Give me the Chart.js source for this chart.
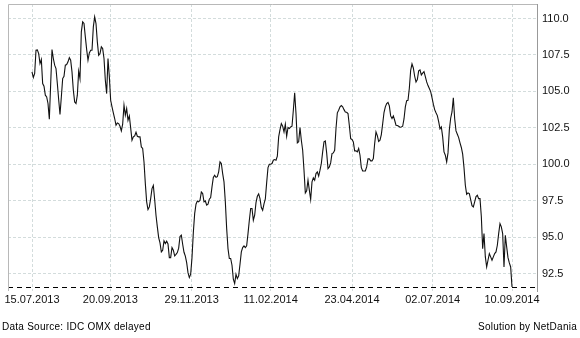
<!DOCTYPE html>
<html>
<head>
<meta charset="utf-8">
<script src="https://cdn.jsdelivr.net/npm/chart.js@4/dist/chart.umd.min.js"></script>
<style>
  html, body { margin: 0; padding: 0; background: #fff; }
  #wrap { position: relative; width: 580px; height: 338px; }
  .foot { position: absolute; top: 321px; font: 10px "Liberation Sans", Arial, sans-serif; letter-spacing: 0.25px; color: #000; }
</style>
</head>
<body>
<div id="wrap">
  <canvas id="chart" width="580" height="338"></canvas>
  <div class="foot" style="left:2px">Data Source: IDC OMX delayed</div>
  <div class="foot" style="right:3px">Solution by NetDania</div>
</div>
<script>
// closing prices, one per step, 15.07.2013 -> 10.09.2014
var closes = [
  106.34,105.95,106.23,107.83,107.85,107.60,106.91,107.19,105.54,105.36,
  104.74,104.62,104.17,103.09,105.49,107.87,107.26,106.80,106.57,105.54,
  104.44,103.41,104.62,105.88,106.04,106.80,106.84,107.03,107.32,107.14,
  106.34,105.08,104.28,104.17,104.74,106.39,105.88,109.09,109.77,109.66,
  108.74,107.87,107.14,107.64,107.83,107.83,109.43,110.12,109.66,108.40,
  107.48,107.60,108.06,107.94,107.26,105.77,104.85,107.26,106.00,104.39,
  103.94,103.53,103.14,102.68,102.84,102.79,102.61,102.29,102.75,104.05,
  103.37,103.82,103.02,103.32,102.50,101.65,101.88,101.95,102.20,101.92,
  101.88,101.88,101.19,101.08,100.16,98.67,97.42,96.89,97.07,97.64,
  98.33,
  98.54,97.58,96.50,95.70,94.97,94.60,93.98,94.10,94.74,94.56,
  94.72,94.53,93.59,93.59,94.28,94.10,93.71,93.82,93.94,94.24,
  95.04,95.13,94.51,93.96,93.69,93.25,92.56,92.22,92.45,93.59,
  95.31,96.61,97.26,97.48,97.42,97.53,98.10,97.99,97.42,97.48,
  97.19,97.26,97.60,97.71,98.45,99.09,99.25,99.11,99.15,99.48,
  100.16,100.05,99.36,98.79,97.42,95.59,94.21,93.53,93.53,93.07,
  92.11,91.81,92.45,92.15,92.34,93.14,93.98,94.28,94.40,94.28,
  94.40,95.24,96.16,96.96,96.96,96.16,96.50,97.37,97.80,97.96,
  97.64,97.03,96.84,97.28,97.62,98.74,99.77,100.00,100.00,100.05,
  100.28,
  100.32,100.28,100.55,101.88,102.38,102.79,102.61,102.22,102.75,101.92,
  102.52,102.45,102.56,102.61,103.71,104.90,103.48,101.47,101.54,102.52,
  101.65,100.96,99.59,98.03,98.17,98.90,98.22,97.58,98.79,99.06,
  98.90,99.36,99.48,99.18,99.59,100.05,100.85,101.54,101.60,100.78,
  99.70,99.82,100.09,100.73,100.78,100.96,102.45,103.53,103.71,103.94,
  104.03,103.94,103.75,103.59,103.57,103.48,102.66,101.76,101.70,101.54,
  100.92,100.92,100.85,101.08,100.62,99.77,99.54,99.54,99.54,99.82,
  100.37,100.37,100.23,100.23,100.39,101.42,102.22,101.97,101.56,101.65,
  102.04,102.77,103.55,103.94,104.17,104.24,104.01,103.32,103.14,103.32,
  103.02,102.68,
  102.66,102.61,102.54,102.56,102.61,103.11,103.94,104.37,104.39,105.22,
  106.45,106.89,106.61,106.04,105.65,105.81,106.41,106.48,106.13,106.25,
  106.36,106.02,105.65,105.40,105.20,104.99,104.58,104.12,103.75,103.53,
  103.34,102.93,102.43,102.56,101.88,100.85,100.62,100.16,100.78,102.36,
  103.16,103.59,104.56,103.14,102.29,102.06,101.83,101.47,101.15,100.69,
  99.77,98.56,97.94,98.03,97.99,97.58,97.16,97.07,97.42,97.78,
  97.87,97.64,97.64,96.41,94.21,95.24,93.64,92.95,93.41,93.87,
  93.64,93.41,93.64,93.87,93.98,94.44,95.24,95.93,95.70,95.24,
  92.95,95.13,94.33,93.59,93.23,92.95,91.58
];

// date labels and the step each one falls on
var xLabels = ['15.07.2013', '20.09.2013', '29.11.2013', '11.02.2014', '23.04.2014', '02.07.2014', '10.09.2014'];
var xLabelSteps = [0, 58.75, 119.75, 179, 240, 300.5, 360];
var yTicks = [92.5, 95, 97.5, 100, 102.5, 105, 107.5, 110];

var gridColor = '#d3dcdc';

// last price dashed line + top/left frame
var framePlugin = {
  id: 'frame',
  afterDatasetsDraw: function (chart) {
    var ctx = chart.ctx, a = chart.chartArea;
    var y = Math.round(chart.scales.y.getPixelForValue(closes[closes.length - 1])) + 0.5;
    ctx.save();
    ctx.strokeStyle = '#000';
    ctx.lineWidth = 1;
    ctx.setLineDash([5, 4]);
    ctx.beginPath();
    ctx.moveTo(a.left, y);
    ctx.lineTo(a.right, y);
    ctx.stroke();
    ctx.setLineDash([]);
    ctx.strokeStyle = '#b8b8b8';
    ctx.beginPath();
    ctx.moveTo(a.left + 0.5, a.bottom);
    ctx.lineTo(a.left + 0.5, a.top + 0.5);
    ctx.lineTo(a.right, a.top + 0.5);
    ctx.stroke();
    ctx.restore();
  }
};

new Chart(document.getElementById('chart'), {
  type: 'line',
  data: {
    datasets: [{
      data: closes.map(function (v, i) { return { x: i, y: v }; }),
      borderColor: '#111',
      borderWidth: 1.1,
      pointRadius: 0,
      tension: 0,
      fill: false
    }]
  },
  options: {
    responsive: false,
    animation: false,
    devicePixelRatio: 1,
    layout: { padding: { left: 8, top: 4, right: 0, bottom: 0 } },
    plugins: { legend: { display: false }, tooltip: { enabled: false } },
    scales: {
      x: {
        type: 'linear',
        min: -18,
        max: 378.75,
        afterBuildTicks: function (scale) {
          scale.ticks = xLabelSteps.map(function (v) { return { value: v }; });
        },
        afterFit: function (scale) {
          scale.height = 47;
          scale.paddingLeft = 0;
          scale.paddingRight = 0;
        },
        grid: { color: gridColor, drawTicks: false },
        border: { display: false, dash: [3, 2] },
        ticks: {
          autoSkip: false,
          maxRotation: 0,
          padding: 2,
          color: '#111',
          font: { family: 'Liberation Sans', size: 11 },
          callback: function (v, i) { return xLabels[i]; }
        }
      },
      y: {
        position: 'right',
        min: 91.3,
        max: 111,
        afterBuildTicks: function (scale) {
          scale.ticks = yTicks.map(function (v) { return { value: v }; });
        },
        afterFit: function (scale) {
          scale.width = 43;
          scale.paddingTop = 0;
          scale.paddingBottom = 0;
        },
        grid: { color: gridColor, drawTicks: false },
        border: { display: true, color: '#999', width: 1, dash: [3, 2] },
        ticks: {
          padding: 5,
          color: '#111',
          font: { family: 'Liberation Sans', size: 11 },
          callback: function (v) { return v.toFixed(1); }
        }
      }
    }
  },
  plugins: [framePlugin]
});
</script>
</body>
</html>
